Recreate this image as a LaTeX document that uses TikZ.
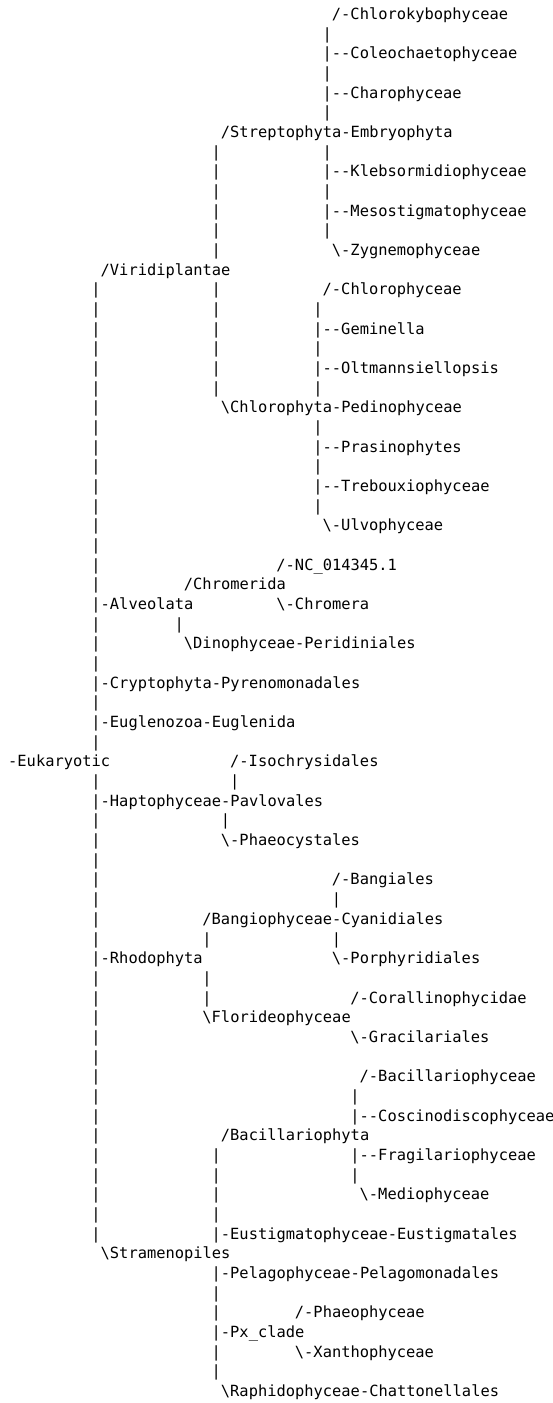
\documentclass[tikz,border=0pt]{standalone}
\usepackage{fontspec}
\setmonofont{DejaVu Sans Mono}
\def\ascw{9.25}
\def\asxo{8.2}
\def\asyo{19.5}
\def\asrh{19.67}
\newcommand\asg[4]{\node[txt] (#1) at ({\asxo+#2*\ascw},{\asyo+#3*\asrh}) {#4};}
\newcommand\bsl{\textbackslash}
\newcommand\asbars[3]{\foreach \r in {#2,...,#3} {\asg{b#1-\r}{#1}{\r}{|}}}
\begin{document}
\begin{tikzpicture}[x=1pt,y=-1pt,
  txt/.style={anchor=base west,inner sep=0pt,outer sep=0pt,
    font=\ttfamily\fontsize{15.4}{18}\selectfont,text=black}]
\fill[white] (0,0) rectangle (553,1403);
\useasboundingbox (0,0) rectangle (553,1403);
% vertical bars of the ascii tree: column, first row, last row
\asbars{9}{14}{37}
\asbars{9}{39}{62}
\asbars{22}{7}{12}
\asbars{22}{14}{19}
\asbars{22}{58}{62}
\asbars{22}{64}{69}
\asbars{34}{1}{5}
\asbars{34}{7}{11}
\asbars{33}{15}{19}
\asbars{33}{21}{25}
\asbars{37}{55}{56}
\asbars{37}{58}{59}
\asg{b35-45}{35}{45}{|}
\asg{b35-47}{35}{47}{|}
\asg{b21-47}{21}{47}{|}
\asbars{21}{49}{50}
\asg{b18-31}{18}{31}{|}
\asg{b24-39}{24}{39}{|}
\asg{b23-41}{23}{41}{|}
% labels
\asg{t0}{35}{0}{/-Chlorokybophyceae}
\asg{t2}{35}{2}{--Coleochaetophyceae}
\asg{t4}{35}{4}{--Charophyceae}
\asg{t6}{23}{6}{/Streptophyta-Embryophyta}
\asg{t8}{35}{8}{--Klebsormidiophyceae}
\asg{t10}{35}{10}{--Mesostigmatophyceae}
\asg{t12}{35}{12}{\bsl-Zygnemophyceae}
\asg{t13}{10}{13}{/Viridiplantae}
\asg{t14}{34}{14}{/-Chlorophyceae}
\asg{t16}{34}{16}{--Geminella}
\asg{t18}{34}{18}{--Oltmannsiellopsis}
\asg{t20}{23}{20}{\bsl Chlorophyta-Pedinophyceae}
\asg{t22}{34}{22}{--Prasinophytes}
\asg{t24}{34}{24}{--Trebouxiophyceae}
\asg{t26}{34}{26}{\bsl-Ulvophyceae}
\asg{t28}{29}{28}{/-NC\_014345.1}
\asg{t29}{19}{29}{/Chromerida}
\asg{t30a}{10}{30}{-Alveolata}
\asg{t30b}{29}{30}{\bsl-Chromera}
\asg{t32}{19}{32}{\bsl Dinophyceae-Peridiniales}
\asg{t34}{10}{34}{-Cryptophyta-Pyrenomonadales}
\asg{t36}{10}{36}{-Euglenozoa-Euglenida}
\asg{t38a}{0}{38}{-Eukaryotic}
\asg{t38b}{24}{38}{/-Isochrysidales}
\asg{t40}{10}{40}{-Haptophyceae-Pavlovales}
\asg{t42}{23}{42}{\bsl-Phaeocystales}
\asg{t44}{35}{44}{/-Bangiales}
\asg{t46}{21}{46}{/Bangiophyceae-Cyanidiales}
\asg{t48a}{10}{48}{-Rhodophyta}
\asg{t48b}{35}{48}{\bsl-Porphyridiales}
\asg{t50}{37}{50}{/-Corallinophycidae}
\asg{t51}{21}{51}{\bsl Florideophyceae}
\asg{t52}{37}{52}{\bsl-Gracilariales}
\asg{t54}{38}{54}{/-Bacillariophyceae}
\asg{t56}{38}{56}{--Coscinodiscophyceae}
\asg{t57}{23}{57}{/Bacillariophyta}
\asg{t58}{38}{58}{--Fragilariophyceae}
\asg{t60}{38}{60}{\bsl-Mediophyceae}
\asg{t62}{23}{62}{-Eustigmatophyceae-Eustigmatales}
\asg{t63}{10}{63}{\bsl Stramenopiles}
\asg{t64}{23}{64}{-Pelagophyceae-Pelagomonadales}
\asg{t66}{31}{66}{/-Phaeophyceae}
\asg{t67}{23}{67}{-Px\_clade}
\asg{t68}{31}{68}{\bsl-Xanthophyceae}
\asg{t70}{23}{70}{\bsl Raphidophyceae-Chattonellales}
\end{tikzpicture}
\end{document}
